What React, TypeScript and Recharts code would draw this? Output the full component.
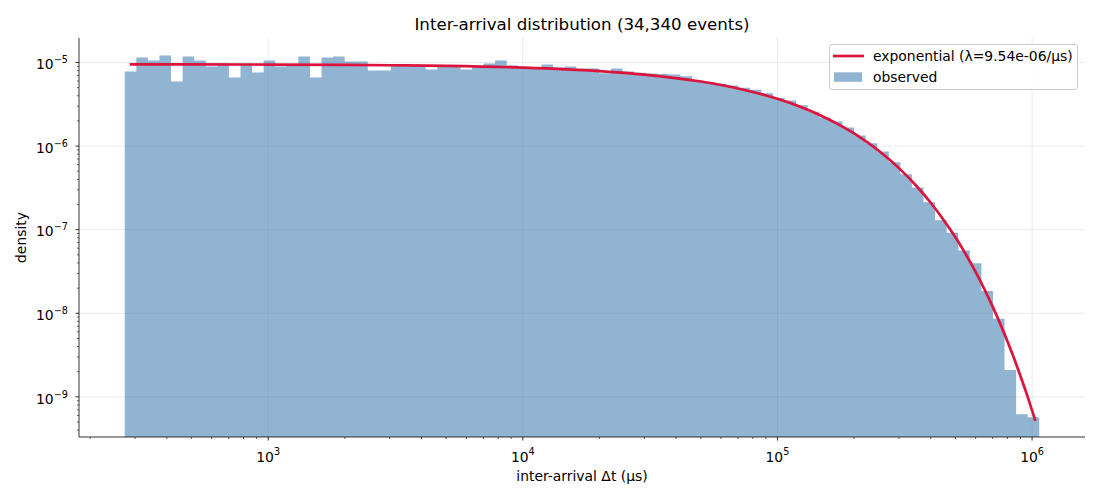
import { Area, CartesianGrid, ComposedChart, Legend, Line, XAxis, YAxis } from 'recharts'

// histogram bin edges, log10(Δt in μs), 79 bins
const BIN_EDGES_LOG10 = [
  2.4365, 2.482, 2.5274, 2.5729, 2.6184, 2.6638, 2.7093, 2.7548, 2.8002, 2.8457,
  2.8912, 2.9366, 2.9821, 3.0275, 3.073, 3.1185, 3.1639, 3.2094, 3.2549, 3.3003,
  3.3458, 3.3913, 3.4367, 3.4822, 3.5277, 3.5731, 3.6186, 3.6641, 3.7095, 3.755,
  3.8005, 3.8459, 3.8914, 3.9368, 3.9823, 4.0278, 4.0732, 4.1187, 4.1642, 4.2096,
  4.2551, 4.3006, 4.346, 4.3915, 4.437, 4.4824, 4.5279, 4.5734, 4.6188, 4.6643,
  4.7098, 4.7552, 4.8007, 4.8461, 4.8916, 4.9371, 4.9825, 5.028, 5.0735, 5.1189,
  5.1644, 5.2099, 5.2553, 5.3008, 5.3463, 5.3917, 5.4372, 5.4827, 5.5281, 5.5736,
  5.6191, 5.6645, 5.71, 5.7554, 5.8009, 5.8464, 5.8918, 5.9373, 5.9828, 6.0282,
]

// observed density per bin
const BIN_DENSITY = [
  7.81e-6, 1.148e-5, 1.056e-5, 1.21e-5, 5.93e-6, 1.18e-5, 1.056e-5, 8.96e-6, 9.73e-6, 6.62e-6,
  9.73e-6, 7.6e-6, 1.056e-5, 8.96e-6, 9.2e-6, 1.18e-5, 6.62e-6, 1.148e-5, 1.18e-5, 1.03e-5,
  1.03e-5, 8.02e-6, 8.02e-6, 9.2e-6, 8.96e-6, 8.96e-6, 8.25e-6, 9.2e-6, 9.2e-6, 8.25e-6,
  9.0e-6, 9.73e-6, 1.056e-5, 9.2e-6, 8.9e-6, 8.8e-6, 9.46e-6, 8.7e-6, 8.96e-6, 8.4e-6,
  8.47e-6, 7.45e-6, 8.47e-6, 7.8e-6, 7.53e-6, 7.4e-6, 7.3e-6, 7.19e-6, 6.86e-6, 5.98e-6,
  5.82e-6, 5.56e-6, 5.32e-6, 4.98e-6, 4.72e-6, 4.3e-6, 3.75e-6, 3.5e-6, 3.07e-6, 2.58e-6,
  2.2e-6, 1.97e-6, 1.67e-6, 1.34e-6, 1.08e-6, 8.6e-7, 6.4e-7, 4.6e-7, 3.2e-7, 2.13e-7,
  1.3e-7, 9.2e-8, 5.65e-8, 3.98e-8, 1.85e-8, 8.6e-9, 2.1e-9, 6.2e-10, 5.7e-10,
]

// fitted exponential curve
const CURVE_T_US = [
  286, 500, 800, 1000, 2000, 3000, 5000, 10000, 20000, 30000, 50000, 70000, 100000,
  125000, 150000, 175000, 200000, 250000, 300000, 350000, 400000, 450000, 500000,
  550000, 600000, 650000, 700000, 750000, 800000, 850000, 900000, 950000, 1030000,
]
const CURVE_DENSITY = [
  9.52e-6, 9.495e-6, 9.467e-6, 9.449e-6, 9.36e-6, 9.27e-6, 9.096e-6, 8.672e-6, 7.884e-6,
  7.165e-6, 5.92e-6, 4.89e-6, 3.675e-6, 2.895e-6, 2.28e-6, 1.796e-6, 1.416e-6, 8.78e-7,
  5.45e-7, 3.38e-7, 2.1e-7, 1.3e-7, 8.1e-8, 5.03e-8, 3.12e-8, 1.94e-8, 1.2e-8, 7.47e-9,
  4.63e-9, 2.87e-9, 1.78e-9, 1.11e-9, 5.17e-10,
]

const X_MAJOR = [3, 4, 5, 6]
const Y_MAJOR = [-9, -8, -7, -6, -5]
const MINOR_MULT = [2, 3, 4, 5, 6, 7, 8, 9]
const X_DOMAIN: [number, number] = [2.2569, 6.2078]
const Y_DOMAIN: [number, number] = [-9.48, -4.707]

const TITLE = 'Inter-arrival distribution (34,340 events)'
const X_LABEL = 'inter-arrival Δt (μs)'
const Y_LABEL = 'density'
const LINE_LABEL = 'exponential (λ=9.54e-06/μs)'
const BAR_LABEL = 'observed'

const FONT = 'DejaVu Sans'
const BAR_COLOR = '#4682b4'
const LINE_COLOR = '#dc143c'

const minorTicks = (from: number, to: number, domain: [number, number]) => {
  const out: number[] = []
  for (let d = from; d <= to; d++) {
    MINOR_MULT.forEach((m) => {
      const v = d + Math.log10(m)
      if (v >= domain[0] && v <= domain[1]) out.push(v)
    })
  }
  return out
}

const X_TICKS = [...X_MAJOR, ...minorTicks(2, 6, X_DOMAIN)].sort((a, b) => a - b)
const Y_TICKS = [...Y_MAJOR, ...minorTicks(-10, -5, Y_DOMAIN)].sort((a, b) => a - b)

const histData = BIN_EDGES_LOG10.map((x, i) => ({
  x,
  y: Math.log10(BIN_DENSITY[Math.min(i, BIN_DENSITY.length - 1)]),
}))
const curveData = CURVE_T_US.map((t, i) => ({ x: Math.log10(t), y: Math.log10(CURVE_DENSITY[i]) }))

const isMajor = (v: number) => Math.abs(v - Math.round(v)) < 1e-9

const expText = (n: number) => (n < 0 ? `\u2212${Math.abs(n)}` : `${n}`)

const XTick = (props: any) => {
  const { x, y, payload } = props
  const major = isMajor(payload.value)
  return (
    <g>
      <line x1={x} x2={x} y1={y} y2={y + (major ? 3.5 : 2)} stroke="#000" strokeWidth={major ? 0.8 : 0.6} />
      {major && (
        <text x={x} y={y + 24.7} textAnchor="middle" fontFamily={FONT} fontSize={13.9} fill="#000">
          <tspan>10</tspan>
          <tspan dy={-6.4} fontSize={9.7}>
            {expText(Math.round(payload.value))}
          </tspan>
        </text>
      )}
    </g>
  )
}

const YTick = (props: any) => {
  const { x, y, payload } = props
  const major = isMajor(payload.value)
  return (
    <g>
      <line x1={x - (major ? 3.5 : 2)} x2={x} y1={y} y2={y} stroke="#000" strokeWidth={major ? 0.8 : 0.6} />
      {major && (
        <text x={x - 11} y={y + 6.7} textAnchor="end" fontFamily={FONT} fontSize={13.9} fill="#000">
          <tspan>10</tspan>
          <tspan dy={-6} fontSize={9.7}>
            {expText(Math.round(payload.value))}
          </tspan>
        </text>
      )}
    </g>
  )
}

const LegendBox = () => (
  <div
    style={{
      position: 'relative',
      width: 249,
      height: 46,
      boxSizing: 'border-box',
      border: '1px solid #cccccc',
      borderRadius: 3,
      background: 'rgba(255,255,255,0.8)',
    }}
  >
    <svg width={249} height={46} style={{ position: 'absolute', left: -1, top: -1 }}>
      <line x1={4} x2={35} y1={12} y2={12} stroke={LINE_COLOR} strokeWidth={2.7} />
      <text x={44} y={16.5} fontFamily={FONT} fontSize={13.9} fill="#000">
        {LINE_LABEL}
      </text>
      <rect x={5} y={28.3} width={28} height={9.5} fill={BAR_COLOR} fillOpacity={0.6} />
      <text x={44} y={37.5} fontFamily={FONT} fontSize={13.9} fill="#000">
        {BAR_LABEL}
      </text>
    </svg>
  </div>
)

export default function App() {
  return (
    <div style={{ position: 'absolute', left: 0, top: 0, width: 1100, height: 500, background: '#fff' }}>
      <ComposedChart width={1100} height={500} margin={{ top: 38, right: 15, bottom: 0, left: 0 }}>
        <CartesianGrid
          stroke="#e6e6e6"
          strokeWidth={0.8}
          verticalValues={X_MAJOR}
          horizontalValues={Y_MAJOR}
        />
        <XAxis
          dataKey="x"
          type="number"
          domain={X_DOMAIN}
          allowDataOverflow
          ticks={X_TICKS}
          interval={0}
          tick={<XTick />}
          tickLine={false}
          tickSize={0}
          tickMargin={0}
          height={63}
          axisLine={{ stroke: '#000', strokeWidth: 0.8 }}
        />
        <YAxis
          type="number"
          domain={Y_DOMAIN}
          allowDataOverflow
          ticks={Y_TICKS}
          interval={0}
          tick={<YTick />}
          tickLine={false}
          tickSize={0}
          tickMargin={0}
          width={79}
          axisLine={{ stroke: '#000', strokeWidth: 0.8 }}
        />
        <Area
          data={histData}
          dataKey="y"
          type="stepAfter"
          baseValue={Y_DOMAIN[0]}
          fill={BAR_COLOR}
          fillOpacity={0.6}
          stroke="none"
          isAnimationActive={false}
          legendType="none"
        />
        <Line
          data={curveData}
          dataKey="y"
          type="monotone"
          stroke={LINE_COLOR}
          strokeWidth={2.7}
          dot={false}
          activeDot={false}
          isAnimationActive={false}
        />
        <Legend
          layout="vertical"
          align="center"
          verticalAlign="middle"
          content={() => <LegendBox />}
          wrapperStyle={{ left: 829, top: 44, width: 249, height: 46 }}
        />
        <text x={582} y={29.5} textAnchor="middle" fontFamily={FONT} fontSize={16.67} fill="#000">
          {TITLE}
        </text>
        <text x={582} y={481} textAnchor="middle" fontFamily={FONT} fontSize={13.9} fill="#000">
          {X_LABEL}
        </text>
        <text
          x={26}
          y={237.5}
          textAnchor="middle"
          fontFamily={FONT}
          fontSize={13.9}
          fill="#000"
          transform="rotate(-90 26 237.5)"
        >
          {Y_LABEL}
        </text>
      </ComposedChart>
    </div>
  )
}
